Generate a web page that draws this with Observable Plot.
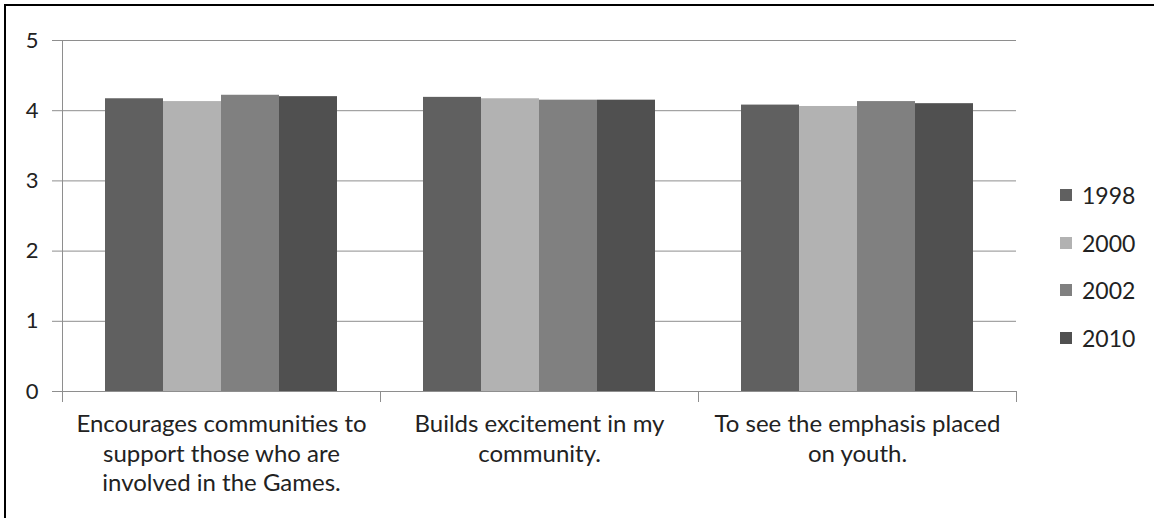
<!DOCTYPE html>
<html>
<head>
<meta charset="utf-8">
<script src="https://cdn.jsdelivr.net/npm/d3@7"></script>
<script src="https://cdn.jsdelivr.net/npm/@observablehq/plot@0.6"></script>
<style>
  html, body { margin: 0; padding: 0; background: #fff; overflow: hidden; }
  #wrap { position: relative; width: 1154px; height: 518px; }
  #border { position: absolute; left: 4px; top: 4px; width: 1200px; height: 600px; border: 2px solid #000; box-sizing: border-box; }
  #chart { position: absolute; left: 0; top: 0; }
  #legend { position: absolute; left: 1060px; top: 171px; font-family: Lato, "Open Sans", sans-serif; font-size: 23px; color: #222; }
  #legend .item { display: flex; align-items: center; height: 47.7px; }
  #legend .sw { width: 12px; height: 12px; margin-right: 10px; }
</style>
</head>
<body>
<div id="wrap">
  <div id="border"></div>
  <div id="chart"></div>
  <div id="legend"></div>
</div>
<script>
const categories = [
  "Encourages communities to\nsupport those who are\ninvolved in the Games.",
  "Builds excitement in my\ncommunity.",
  "To see the emphasis placed\non youth."
];
const years = ["1998", "2000", "2002", "2010"];
const colors = ["#606060", "#b2b2b2", "#808080", "#505050"];
const values1998 = [4.17, 4.19, 4.08];
const values2000 = [4.13, 4.17, 4.06];
const values2002 = [4.22, 4.15, 4.13];
const values2010 = [4.20, 4.15, 4.10];
const yTicks = [0, 1, 2, 3, 4, 5];

const series = [values1998, values2000, values2002, values2010];
const data = [];
categories.forEach((c, i) => {
  years.forEach((y, j) => data.push({cat: c, year: y, value: series[j][i]}));
});

const grey = "#8e8e8e";
const font = 'Lato, "Open Sans", sans-serif';

const chart = Plot.plot({
  width: 1154,
  height: 518,
  marginLeft: 62,
  marginRight: 138,
  marginTop: 40,
  marginBottom: 127,
  style: {fontFamily: font, fontSize: "22px", color: "#222", background: "transparent"},
  fx: {domain: categories, padding: 0, axis: null, label: null},
  x: {domain: years, paddingInner: 0, paddingOuter: 0.74, axis: null},
  y: {domain: [0, 5], axis: null},
  color: {domain: years, range: colors},
  marks: [
    Plot.gridY(yTicks, {stroke: grey, strokeOpacity: 1, strokeWidth: 1}),
    Plot.barY(data, {fx: "cat", x: "year", y: "value", fill: "year", inset: 0}),
    Plot.frame({facet: "super", anchor: "left", stroke: grey, insetBottom: -10}),
    Plot.frame({anchor: "left", stroke: grey, insetTop: 351, insetBottom: -10}),
    Plot.frame({anchor: "right", stroke: grey, insetTop: 351, insetBottom: -10}),
    Plot.axisY(yTicks, {tickSize: 10, tickPadding: 14, stroke: grey, fill: "#222", fontSize: 22, tickFormat: d => String(d), label: null}),
    Plot.axisFx({anchor: "bottom", tickSize: 0, tickPadding: 20, fontSize: 24, lineHeight: 1.23, fill: "#222", label: null})
  ]
});
document.getElementById("chart").appendChild(chart);

const legend = document.getElementById("legend");
years.forEach((y, i) => {
  const item = document.createElement("div");
  item.className = "item";
  const sw = document.createElement("div");
  sw.className = "sw";
  sw.style.background = colors[i];
  const t = document.createElement("span");
  t.textContent = y;
  item.appendChild(sw);
  item.appendChild(t);
  legend.appendChild(item);
});
</script>
</body>
</html>
